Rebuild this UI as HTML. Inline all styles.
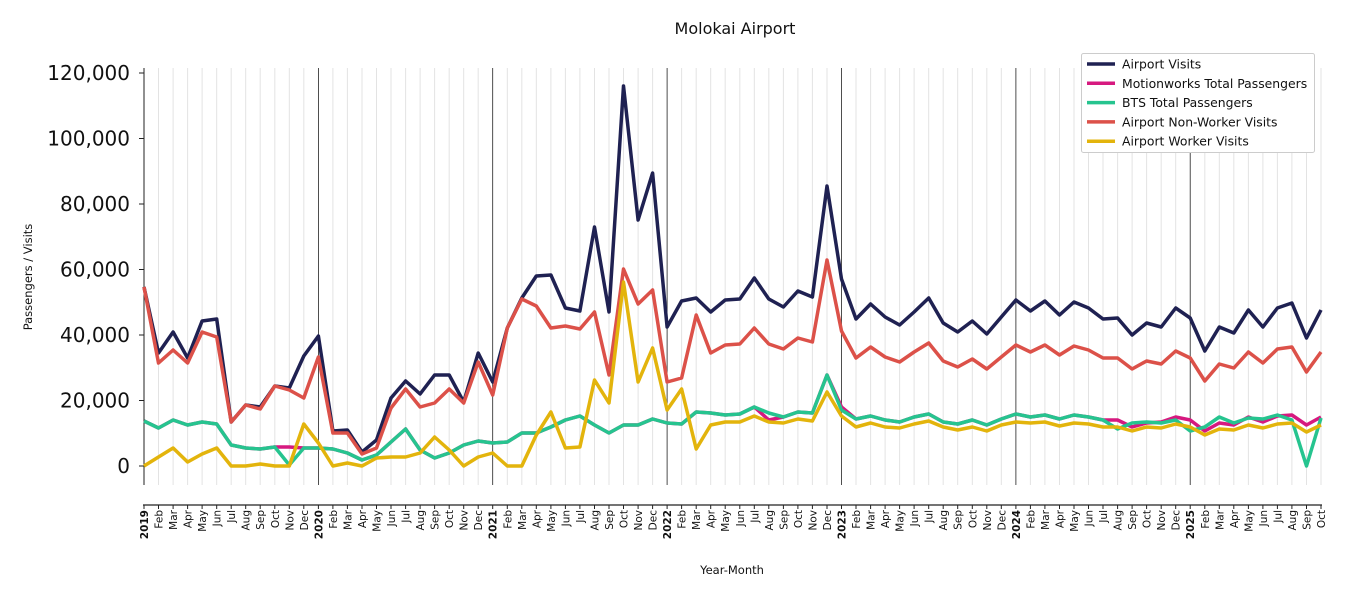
<!DOCTYPE html>
<html><head><meta charset="utf-8"><style>
body{margin:0;background:#fff;}
svg{display:block;font-family:"DejaVu Sans","Liberation Sans",sans-serif;}
</style></head><body>
<svg id="s" width="1350" height="600" xmlns="http://www.w3.org/2000/svg"></svg>
<script>
const s=document.getElementById('s');
let h='';
const X=i=>144+i*14.531;
const navy=[287,353,332,358,321,319,422,405,407,386,388,356, 336,431,430,452,440,398,381,394,375,375,402,353, 382,328,298,276,275,308,311,227,312,86,220,173,
327,301,298,312,300,299,278,299,307,291,297,186, 279,319,304,317,325,312,298,323,332,321,334,317, 300,311,301,315,302,308,319,318,335,323,327,308, 318,351,327,333,310,327,308,303,338,310];
const red=[287,363,350,363,332,337,422,405,409,386,390,398, 357,433,433,454,448,408,389,407,403,389,403,362, 395,328,299,306,328,326,329,312,375,269,304,290,
382,378,315,353,345,344,328,344,349,338,342,260, 331,358,347,357,362,352,343,361,367,359,369,357, 345,352,345,355,346,350,358,358,369,361,364,351, 358,381,364,368,352,363,349,347,372,352];
const green=[421,428,420,425,422,424,445,448,449,447,465,448, 448,449,453,460,455,442,429,450,458,453,445,441, 443,442,433,433,427,420,416,425,433,425,425,419,
423,424,412,413,415,414,407,413,417,412,413,375, 410,419,416,420,422,417,414,422,424,420,425,419, 414,417,415,419,415,417,420,429,423,422,423,420, 431,427,417,423,418,419,415,420,466,418];
const mag=green.slice();
mag[9]=447;mag[10]=447;mag[48]=407;mag[43]=420;
mag[67]=420;mag[68]=427;mag[69]=423;mag[70]=422;mag[71]=417;mag[72]=420;mag[73]=431;mag[74]=423;mag[75]=425;mag[76]=417;mag[77]=422;mag[78]=416;mag[79]=415;mag[80]=425;mag[81]=417;
const yel=[466,457,448,462,454,448,466,466,464,466,466,424, 443,466,463,466,458,457,457,453,437,450,466,457, 453,466,466,435,412,448,447,380,403,282,382,348,
410,389,449,425,422,422,416,422,423,419,421,392, 416,427,423,427,428,424,421,427,430,427,431,425, 422,423,422,426,423,424,427,427,431,427,428,424, 427,435,429,430,425,428,424,423,432,425];
for(let i=0;i<82;i++){const x=X(i).toFixed(1);
 if(i%12==0) h+=`<line x1="${x}" y1="68" x2="${x}" y2="485" stroke="#222" stroke-width="0.8"/>`;
 else h+=`<line x1="${x}" y1="68" x2="${x}" y2="485" stroke="#e3e3e3" stroke-width="1"/>`;
}
h+=`<line x1="144" y1="68" x2="144" y2="485" stroke="#222" stroke-width="1"/>`;
const yl=['0','20,000','40,000','60,000','80,000','100,000','120,000'];
for(let k=0;k<7;k++){const y=466-k*65.5;
 h+=`<line x1="139" y1="${y}" x2="144" y2="${y}" stroke="#222"/>`;
 h+=`<text x="130" y="${y+7}" font-size="20" text-anchor="end" fill="#111">${yl[k]}</text>`;}
h+=`<line x1="143" y1="505" x2="1322" y2="505" stroke="#222" stroke-width="1.3"/>`;
const mn=['Jan','Feb','Mar','Apr','May','Jun','Jul','Aug','Sep','Oct','Nov','Dec'];
for(let i=0;i<82;i++){const x=X(i);
 h+=`<line x1="${x.toFixed(1)}" y1="505" x2="${x.toFixed(1)}" y2="509" stroke="#222"/>`;
 const m=i%12; const lab=m==0?String(2019+i/12):mn[m];
 h+=`<text transform="translate(${(x+4).toFixed(1)},510) rotate(-90)" font-size="10.5" text-anchor="end" fill="#111" ${m==0?'font-weight="bold"':''}>${lab}</text>`;
}
function line(a,c){return `<polyline fill="none" stroke="${c}" stroke-width="3.5" stroke-linejoin="round" points="${a.map((y,i)=>X(i).toFixed(1)+','+y).join(' ')}"/>`;}
h+=line(navy,'#1f2152');
h+=line(mag,'#d6197f');
h+=line(green,'#26c48f');
h+=line(red,'#dc5149');
h+=line(yel,'#e3b40c');
h+=`<text x="735" y="34" font-size="16" text-anchor="middle" fill="#111">Molokai Airport</text>`;
h+=`<text x="732" y="574" font-size="11.5" text-anchor="middle" fill="#111">Year-Month</text>`;
h+=`<text transform="translate(32,277) rotate(-90)" font-size="11.5" text-anchor="middle" fill="#111">Passengers / Visits</text>`;
h+=`<rect x="1081.5" y="53.5" width="233" height="99" fill="#fff" stroke="#ccc" rx="2"/>`;
const lg=[['Airport Visits','#1f2152'],['Motionworks Total Passengers','#d6197f'],['BTS Total Passengers','#26c48f'],['Airport Non-Worker Visits','#dc5149'],['Airport Worker Visits','#e3b40c']];
lg.forEach((e,k)=>{const y=64+k*19.3;
 h+=`<line x1="1087" y1="${y}" x2="1115" y2="${y}" stroke="${e[1]}" stroke-width="3.5"/>`;
 h+=`<text x="1122" y="${y+4.5}" font-size="12.4" fill="#111">${e[0]}</text>`;});
s.innerHTML=h;
</script>
</body></html>
